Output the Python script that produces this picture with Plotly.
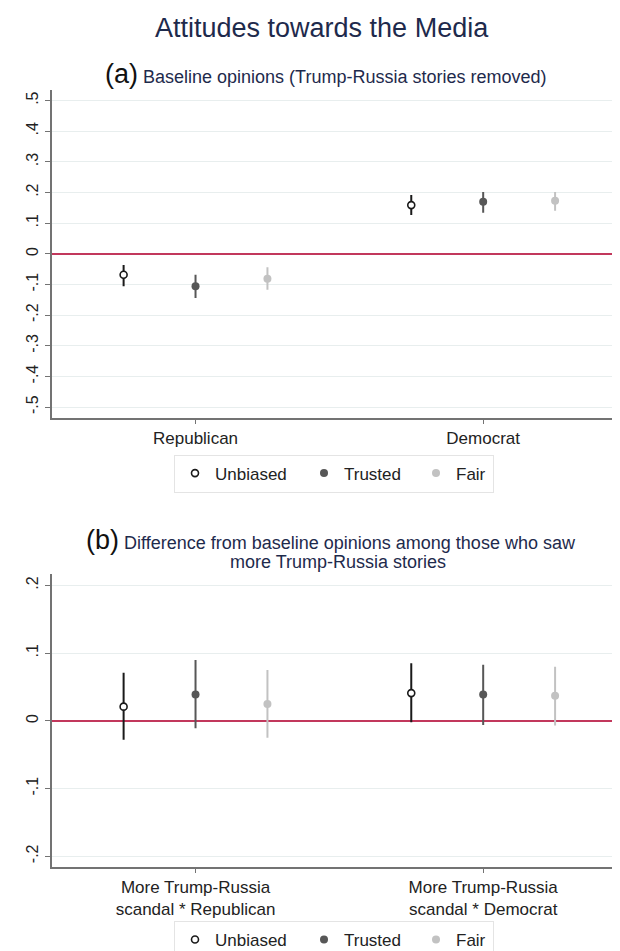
import plotly.graph_objects as go

# ---------------- data ----------------
groups_a = ["Republican", "Democrat"]
groups_b = ["More Trump-Russia<br>scandal * Republican", "More Trump-Russia<br>scandal * Democrat"]
series = ["Unbiased", "Trusted", "Fair"]

# panel (a): point estimates and 95% CI bounds [Republican, Democrat]
unbiased_a = [-0.068, 0.159]
unbiased_a_lo = [-0.106, 0.127]
unbiased_a_hi = [-0.036, 0.192]
trusted_a = [-0.106, 0.170]
trusted_a_lo = [-0.144, 0.134]
trusted_a_hi = [-0.068, 0.202]
fair_a = [-0.081, 0.173]
fair_a_lo = [-0.117, 0.141]
fair_a_hi = [-0.044, 0.202]

# panel (b)
unbiased_b = [0.021, 0.041]
unbiased_b_lo = [-0.028, -0.002]
unbiased_b_hi = [0.071, 0.085]
trusted_b = [0.039, 0.039]
trusted_b_lo = [-0.011, -0.006]
trusted_b_hi = [0.090, 0.083]
fair_b = [0.025, 0.037]
fair_b_lo = [-0.025, -0.007]
fair_b_hi = [0.075, 0.080]

yticks_a = [0.5, 0.4, 0.3, 0.2, 0.1, 0, -0.1, -0.2, -0.3, -0.4, -0.5]
yticklabels_a = [".5", ".4", ".3", ".2", ".1", "0", "-.1", "-.2", "-.3", "-.4", "-.5"]
yticks_b = [0.2, 0.1, 0, -0.1, -0.2]
yticklabels_b = [".2", ".1", "0", "-.1", "-.2"]

# ---------------- styling ----------------
FONT = "Liberation Sans, Arial, sans-serif"
NAVY = "#1e2a4c"
styles = {
    "Unbiased": dict(fill="white", line="#1a1a1a", err="#1a1a1a", lw=1.6, size=7),
    "Trusted": dict(fill="#575757", line="#575757", err="#575757", lw=0, size=8),
    "Fair": dict(fill="#c2c2c2", line="#c2c2c2", err="#c2c2c2", lw=0, size=8),
}
legend_w = {"Unbiased": 84, "Trusted": 67, "Fair": 32}
offsets = {"Unbiased": -0.25, "Trusted": 0.0, "Fair": 0.25}
group_pos = [1, 2]

fig = go.Figure()

def add_panel(vals, los, his, xa, ya, legend):
    for name, v, lo, hi in zip(series, vals, los, his):
        st = styles[name]
        fig.add_trace(go.Scatter(
            x=[g + offsets[name] for g in group_pos], y=v,
            mode="markers", name=name, legend=legend, legendwidth=legend_w[name],
            marker=dict(symbol="circle", size=st["size"], color=st["fill"],
                        line=dict(color=st["line"], width=st["lw"])),
            error_y=dict(type="data", symmetric=False,
                         array=[h - c for h, c in zip(hi, v)],
                         arrayminus=[c - l for c, l in zip(v, lo)],
                         width=0, thickness=2, color=st["err"]),
            xaxis=xa, yaxis=ya, showlegend=True,
        ))

add_panel([unbiased_a, trusted_a, fair_a], [unbiased_a_lo, trusted_a_lo, fair_a_lo],
          [unbiased_a_hi, trusted_a_hi, fair_a_hi], "x", "y", "legend")
add_panel([unbiased_b, trusted_b, fair_b], [unbiased_b_lo, trusted_b_lo, fair_b_lo],
          [unbiased_b_hi, trusted_b_hi, fair_b_hi], "x2", "y2", "legend2")

W, H = 620, 951
xdom = [43.7 / W, 619 / W]
def ydom(top, bottom):
    return [1 - bottom / H, 1 - top / H]

axis_common = dict(showline=True, linecolor="#737373", linewidth=2, ticks="outside",
                   tickcolor="#737373", tickwidth=1)
xfont = dict(family=FONT, size=17, color="#222222")
yfont = dict(family=FONT, size=16, color="#222222")
legfont = dict(family=FONT, size=17, color="#222222")

fig.update_layout(
    width=W, height=H, margin=dict(l=0, r=0, t=0, b=0),
    paper_bgcolor="white", plot_bgcolor="white",
    font=dict(family=FONT),
    xaxis=dict(domain=xdom, anchor="y", range=[0.5, 2.5], tickvals=group_pos,
               ticktext=groups_a, showgrid=False, zeroline=False, tickfont=xfont,
               ticklen=4, **axis_common),
    yaxis=dict(domain=ydom(82, 411.7), anchor="x", range=[-0.534, 0.536],
               tickvals=yticks_a, ticktext=yticklabels_a, tickangle=-90, tickfont=yfont,
               showgrid=True, gridcolor="#e8eeee", gridwidth=1, ticklen=5,
               zeroline=True, zerolinecolor="#c2385c", zerolinewidth=2,
               **axis_common),
    xaxis2=dict(domain=xdom, anchor="y2", range=[0.5, 2.5], tickvals=group_pos,
                ticktext=groups_b, showgrid=False, zeroline=False, tickfont=xfont,
                ticklen=4, **axis_common),
    yaxis2=dict(domain=ydom(569, 863.3), anchor="x2", range=[-0.2156, 0.217],
                tickvals=yticks_b, ticktext=yticklabels_b, tickangle=-90, tickfont=yfont,
                showgrid=True, gridcolor="#e8eeee", gridwidth=1, ticklen=5,
                zeroline=True, zerolinecolor="#c2385c", zerolinewidth=2,
                **axis_common),
    legend=dict(orientation="h", x=166 / W, xanchor="left", y=1 - 468 / H, yanchor="middle",
                bordercolor="#e4e4e4", borderwidth=1, bgcolor="white",
                font=legfont, itemwidth=30, entrywidthmode="pixels"),
    legend2=dict(orientation="h", x=166 / W, xanchor="left", y=1 - 937 / H, yanchor="middle",
                 bordercolor="#e4e4e4", borderwidth=1, bgcolor="white",
                 font=legfont, itemwidth=30, entrywidthmode="pixels"),
    annotations=[
        dict(text="Attitudes towards the Media", x=314 / W, y=1 - 20 / H, xref="paper", yref="paper",
             xanchor="center", yanchor="middle", showarrow=False,
             font=dict(family=FONT, size=27, color=NAVY)),
        dict(text="<span style='font-size:27px;color:#111'>(a)</span> Baseline opinions (Trump-Russia stories removed)",
             x=318 / W, y=1 - 66 / H, xref="paper", yref="paper",
             xanchor="center", yanchor="middle", showarrow=False,
             font=dict(family=FONT, size=18, color=NAVY)),
        dict(text="<span style='font-size:27px;color:#111'>(b)</span> Difference from baseline opinions among those who saw",
             x=323 / W, y=1 - 535 / H, xref="paper", yref="paper",
             xanchor="center", yanchor="middle", showarrow=False,
             font=dict(family=FONT, size=18, color=NAVY)),
        dict(text="more Trump-Russia stories",
             x=330 / W, y=1 - 557 / H, xref="paper", yref="paper",
             xanchor="center", yanchor="middle", showarrow=False,
             font=dict(family=FONT, size=18, color=NAVY)),
    ],
)

fig.write_html("out.html")
